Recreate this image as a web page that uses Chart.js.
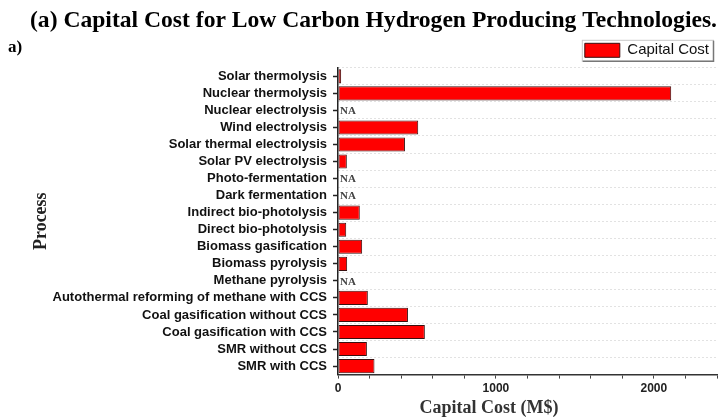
<!DOCTYPE html>
<html>
<head>
<meta charset="utf-8">
<script src="https://cdn.jsdelivr.net/npm/chart.js@4/dist/chart.umd.min.js"></script>
<style>
  html, body { margin: 0; padding: 0; background: #fff; }
  #wrap { width: 725px; height: 417px; position: relative; }
</style>
</head>
<body>
<div id="wrap"><canvas id="c" width="725" height="417"></canvas></div>
<script>
// Processes, top to bottom
const processes = [
  'Solar thermolysis',
  'Nuclear thermolysis',
  'Nuclear electrolysis',
  'Wind electrolysis',
  'Solar thermal electrolysis',
  'Solar PV electrolysis',
  'Photo-fermentation',
  'Dark fermentation',
  'Indirect bio-photolysis',
  'Direct bio-photolysis',
  'Biomass gasification',
  'Biomass pyrolysis',
  'Methane pyrolysis',
  'Autothermal reforming of methane with CCS',
  'Coal gasification without CCS',
  'Coal gasification with CCS',
  'SMR without CCS',
  'SMR with CCS'
];

// Capital cost in M$ (null = not available)
const capitalCost = [
  20, 2110, null, 508, 424, 56, null, null, 138,
  52, 153, 58, null, 189, 443, 550, 183, 231
];

// Labelled ticks on the cost axis
const costTickLabels = [0, 1000, 2000];

const serif = '"Liberation Serif", "Times New Roman", serif';
const sans = '"Liberation Sans", Arial, sans-serif';

// "NA" markers for processes without a value
const naLabels = {
  id: 'naLabels',
  afterDatasetsDraw(chart) {
    const { ctx } = chart;
    const x = chart.scales.x.getPixelForValue(0);
    const y = chart.scales.y;
    ctx.save();
    ctx.font = 'bold 11px ' + serif;
    ctx.fillStyle = '#444';
    ctx.textAlign = 'left';
    ctx.textBaseline = 'middle';
    capitalCost.forEach((v, i) => {
      if (v === null) ctx.fillText('NA', x + 2, y.getPixelForValue(i) + 1);
    });
    ctx.restore();
  }
};

// Frame around the legend, the panel tag and the cost axis caption
const decorations = {
  id: 'decorations',
  afterDraw(chart) {
    const { ctx } = chart;
    ctx.save();
    const hb = chart.legend.legendHitBoxes[0];
    if (hb) {
      const l = hb.left - 3, t = hb.top - 3, r = hb.left + hb.width + 4, b = hb.top + hb.height + 3;
      ctx.strokeStyle = '#c8c8c8';
      ctx.lineWidth = 1;
      ctx.strokeRect(l + 0.5, t + 0.5, r - l, b - t);
      ctx.strokeStyle = '#777';
      ctx.lineWidth = 1.5;
      ctx.beginPath();
      ctx.moveTo(r + 0.5, t + 1);
      ctx.lineTo(r + 0.5, b + 0.5);
      ctx.lineTo(l + 1, b + 0.5);
      ctx.stroke();
    }
    ctx.fillStyle = '#000';
    ctx.font = 'bold 17px ' + serif;
    ctx.textAlign = 'left';
    ctx.textBaseline = 'alphabetic';
    ctx.fillText('a)', 8, 52);

    ctx.font = 'bold 18px ' + serif;
    ctx.textAlign = 'center';
    ctx.fillStyle = '#333';
    ctx.fillText('Capital Cost (M$)', 489, 413);
    ctx.restore();
  }
};

new Chart(document.getElementById('c'), {
  type: 'bar',
  data: {
    labels: processes,
    datasets: [{
      label: 'Capital Cost',
      data: capitalCost,
      backgroundColor: '#ff0000',
      borderColor: '#3a1010',
      borderWidth: 1,
      borderSkipped: false,
      barPercentage: 0.83,
      categoryPercentage: 1.0
    }]
  },
  options: {
    indexAxis: 'y',
    responsive: false,
    animation: false,
    layout: { padding: { left: 30, right: 8, top: 0, bottom: 18 } },
    plugins: {
      title: {
        display: true,
        text: '(a) Capital Cost for Low Carbon Hydrogen Producing Technologies.',
        color: '#000',
        font: { family: serif, size: 24, weight: 'bold', lineHeight: 1.2 },
        padding: { top: 6, bottom: 0 }
      },
      legend: {
        display: true,
        position: 'top',
        align: 'end',
        labels: {
          boxWidth: 35,
          boxHeight: 14,
          padding: 8,
          color: '#111',
          font: { family: sans, size: 15 }
        }
      },
      tooltip: { enabled: false }
    },
    scales: {
      x: {
        type: 'linear',
        min: 0,
        max: 2400,
        ticks: {
          stepSize: 200,
          autoSkip: false,
          maxRotation: 0,
          padding: 3,
          color: '#222',
          font: { family: sans, size: 12, weight: 'bold' },
          callback: v => costTickLabels.includes(v) ? String(v) : ''
        },
        grid: { drawOnChartArea: false, drawTicks: true, tickLength: 4, tickColor: '#444', tickWidth: 1 },
        border: { display: true, color: '#333', width: 1.5 }
      },
      y: {
        type: 'category',
        position: 'left',
        offset: true,
        afterFit: s => { s.width = 308; },
        ticks: {
          padding: 6,
          color: '#111',
          autoSkip: false,
          font: { family: sans, size: 13, weight: 'bold' }
        },
        grid: { offset: false, drawOnChartArea: false, drawTicks: true, tickLength: 5, tickColor: '#222', tickWidth: 1.5 },
        border: { display: true, color: '#222', width: 1.5 },
        title: {
          display: true,
          text: 'Process',
          color: '#222',
          font: { family: serif, size: 18, weight: 'bold' },
          padding: { top: 1, bottom: 0 }
        }
      },
      rows: {
        type: 'category',
        position: 'left',
        labels: processes,
        offset: true,
        afterFit: s => { s.width = 0; },
        ticks: { display: false },
        grid: { offset: true, drawOnChartArea: true, drawTicks: false, color: '#e2e2e2', lineWidth: 1 },
        border: { display: false, dash: [2, 2] }
      }
    }
  },
  plugins: [naLabels, decorations]
});
</script>
</body>
</html>
